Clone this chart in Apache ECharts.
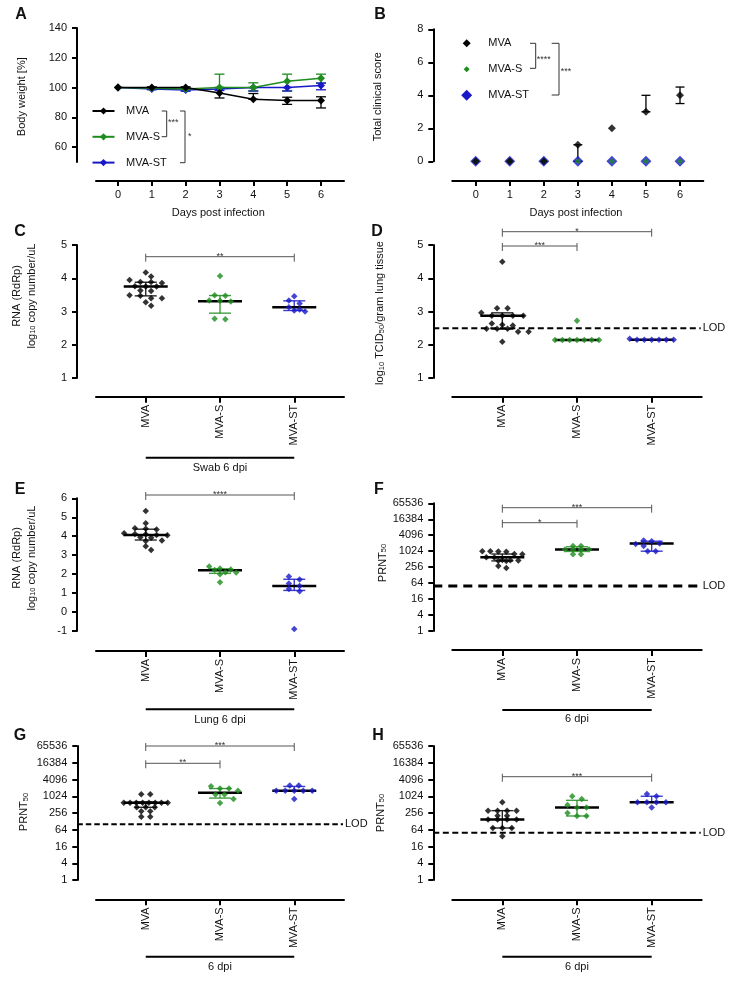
<!DOCTYPE html>
<html><head><meta charset="utf-8">
<script src="https://cdn.jsdelivr.net/npm/echarts@6/dist/echarts.min.js"></script>
<style>html,body{margin:0;padding:0;background:#fff}#c{width:737px;height:985px}</style>
</head><body><div id="c"></div>
<script>
const FONT = '"Liberation Sans", Arial, Helvetica, sans-serif';
const groups = ['MVA', 'MVA-S', 'MVA-ST'];
const colors = ['#000000', '#1e8c1e', '#1818c8'];

// ---------- Panel A: body weight ----------
const days = [0, 1, 2, 3, 4, 5, 6];
const weightMVA   = [100, 100, 100, 96.4, 92.1, 91.3, 91.3];
const weightMVALo = [100, 99.5, 99.5, 93.0, 92.1, 88.7, 86.3];
const weightMVAHi = [100, 100.5, 100.5, 100, 96.0, 93.5, 93.8];
const weightS     = [100, 99.5, 99.0, 100, 100, 104.3, 106.3];
const weightSLo   = [100, 99, 98.5, 100, 97.7, 97.7, 103];
const weightSHi   = [100, 100, 99.5, 109, 103.2, 109, 109];
const weightST    = [100, 99, 98.3, 99, 100, 100, 101.4];
const weightSTLo  = [100, 98.5, 97.5, 98, 97.7, 97.7, 98.5];
const weightSTHi  = [100, 99.5, 99, 100, 100, 100, 103];
const weightTicks = [60, 80, 100, 120, 140];

// ---------- Panel B: clinical score ----------
const scoreMVA   = [0, 0, 0, 1, 2, 3, 4];
const scoreMVALo = [0, 0, 0, 0, 2, 3, 3.5];
const scoreMVAHi = [0, 0, 0, 1, 2, 4, 4.5];
const scoreS  = [0, 0, 0, 0, 0, 0, 0];
const scoreST = [0, 0, 0, 0, 0, 0, 0];

// ---------- Panel C: swab RNA ----------
const swabMVA  = [4.17, 4.05, 3.95, 3.89, 3.89, 3.86, 3.76, 3.75, 3.75, 3.63, 3.62, 3.49, 3.47, 3.40, 3.40, 3.28, 3.17];
const swabS    = [4.07, 3.49, 3.47, 3.33, 3.32, 3.30, 2.78, 2.77];
const swabST   = [3.46, 3.33, 3.24, 3.13, 3.06, 3.03, 3.00];
const swabMedian = [3.75, 3.31, 3.13];
const swabQ1     = [3.47, 2.95, 3.03];
const swabQ3     = [3.88, 3.48, 3.32];

// ---------- Panel D: lung TCID50 ----------
const tcidMVA = [4.50, 3.10, 3.10, 2.96, 2.87, 2.87, 2.87, 2.87, 2.64, 2.60, 2.58, 2.48, 2.48, 2.48, 2.39, 2.39, 2.09];
const tcidS   = [2.72, 2.14, 2.14, 2.14, 2.14, 2.14, 2.14, 2.14];
const tcidST  = [2.18, 2.15, 2.15, 2.15, 2.15, 2.15, 2.15];
const tcidMedian = [2.87, 2.14, 2.15];
const tcidQ1     = [2.47, 2.14, 2.15];
const tcidQ3     = [2.96, 2.14, 2.15];
const tcidLOD = 2.5;

// ---------- Panel E: lung RNA ----------
const lungMVA = [5.33, 4.68, 4.42, 4.40, 4.35, 4.15, 4.12, 4.10, 4.07, 4.05, 3.95, 3.92, 3.78, 3.75, 3.47, 3.27];
const lungS   = [2.40, 2.30, 2.25, 2.22, 2.10, 2.08, 2.00, 1.57];
const lungST  = [1.87, 1.72, 1.50, 1.38, 1.22, 1.10, -0.89];
const lungMedian = [4.07, 2.20, 1.38];
const lungQ1     = [3.80, 2.04, 1.14];
const lungQ3     = [4.37, 2.28, 1.73];

// ---------- Panel F: PRNT50 ----------
const prntFMVA = [1024, 1024, 1000, 980, 800, 780, 600, 590, 480, 470, 460, 450, 440, 280, 240];
const prntFS   = [1620, 1620, 1180, 1180, 1180, 1180, 790, 790];
const prntFST  = [2600, 2430, 2000, 1900, 1620, 1024, 1024];
const prntFMedian = [600, 1180, 2000];
const prntFQ1     = [440, 1000, 1024];
const prntFQ3     = [800, 1500, 2430];
const prntFLOD = 50;

// ---------- Panel G: PRNT50 ----------
const prntGMVA = [1200, 1200, 600, 600, 600, 600, 600, 600, 600, 600, 410, 410, 410, 295, 295, 189, 189];
const prntGS   = [2350, 1940, 1940, 1600, 1180, 1180, 820, 590];
const prntGST  = [2490, 2490, 1600, 1600, 1600, 1600, 1600, 820];
const prntGMedian = [600, 1380, 1600];
const prntGQ1     = [410, 880, 1600];
const prntGQ3     = [640, 1940, 2300];
const prntGLOD = 100;

// ---------- Panel H: PRNT50 ----------
const prntHMVA = [622, 311, 311, 311, 311, 205, 205, 151, 151, 151, 151, 74, 74, 74, 37];
const prntHS   = [1024, 820, 500, 400, 400, 256, 200, 200];
const prntHST  = [1245, 1024, 622, 622, 622, 622, 400];
const prntHMedian = [151, 400, 622];
const prntHQ1     = [74, 200, 622];
const prntHQ3     = [311, 730, 1024];
const prntHLOD = 50;

const log2Ticks = [0, 2, 4, 6, 8, 10, 12, 14, 16];

// ---------- layout (pixels) ----------
const LAYOUT = {
  A: {left: 96,    top: 28,    width: 248,   height: 134,   yo: 19,   xo: 19},
  B: {left: 452.3, top: 29.3,  width: 251,   height: 132,   yo: 19,   xo: 19.7},
  C: {left: 96,    top: 245,   width: 248,   height: 133,   yo: 19,   xo: 18.7},
  D: {left: 452.3, top: 245,   width: 249.4, height: 133,   yo: 19,   xo: 18.7},
  E: {left: 96,    top: 498.3, width: 248,   height: 132.7, yo: 19,   xo: 20},
  F: {left: 452.3, top: 503.3, width: 249.4, height: 127.7, yo: 19,   xo: 19},
  G: {left: 96,    top: 746,   width: 248,   height: 134,   yo: 18.7, xo: 19.3},
  H: {left: 452.3, top: 746,   width: 249.4, height: 134,   yo: 19,   xo: 19.3}
};
const KEYS = ['A', 'B', 'C', 'D', 'E', 'F', 'G', 'H'];
const CAT_MIN = -0.67, CAT_MAX = 2.67;

const AX_LINE = {show: true, onZero: false, lineStyle: {color: '#000', width: 2}};
function axTick(vals, len) {
  const t = {show: true, length: len || 5, lineStyle: {color: '#000', width: 2}};
  if (vals) t.customValues = vals;
  return t;
}
function axLabel(extra) {
  return Object.assign({show: true, fontSize: 11, color: '#111', fontFamily: FONT, margin: 8}, extra || {});
}

const option = {
  animation: false,
  backgroundColor: '#ffffff',
  textStyle: {fontFamily: FONT},
  grid: [], xAxis: [], yAxis: [], series: [], legend: []
};

KEYS.forEach(k => {
  const l = LAYOUT[k];
  option.grid.push({left: l.left, top: l.top, width: l.width, height: l.height, containLabel: false, outerBoundsMode: 'none'});
});

// x axes
option.xAxis.push({type: 'value', gridIndex: 0, min: -0.65, max: 6.68, offset: LAYOUT.A.xo,
  axisLine: AX_LINE, axisTick: axTick(days), axisLabel: axLabel({customValues: days}), splitLine: {show: false}});
option.xAxis.push({type: 'value', gridIndex: 1, min: -0.687, max: 6.684, offset: LAYOUT.B.xo,
  axisLine: AX_LINE, axisTick: axTick(days), axisLabel: axLabel({customValues: days}), splitLine: {show: false}});
['C', 'D', 'E', 'F', 'G', 'H'].forEach((k, j) => {
  option.xAxis.push({type: 'value', gridIndex: j + 2, min: CAT_MIN, max: CAT_MAX, offset: LAYOUT[k].xo,
    axisLine: AX_LINE, axisTick: axTick([0, 1, 2], 6),
    axisLabel: axLabel({customValues: [0, 1, 2], rotate: 90, formatter: v => groups[Math.round(v)]}),
    splitLine: {show: false}});
});

// y axes
const yBase = (gi, k) => ({type: 'value', gridIndex: gi, offset: LAYOUT[k].yo, axisLine: AX_LINE, splitLine: {show: false}});
option.yAxis.push(Object.assign(yBase(0, 'A'), {min: 50, max: 140, axisTick: axTick(weightTicks), axisLabel: axLabel({customValues: weightTicks, margin: 10})}));
option.yAxis.push(Object.assign(yBase(1, 'B'), {min: 0, max: 8, interval: 2, axisTick: axTick(), axisLabel: axLabel({margin: 10})}));
option.yAxis.push(Object.assign(yBase(2, 'C'), {min: 1, max: 5, interval: 1, axisTick: axTick(), axisLabel: axLabel({margin: 10})}));
option.yAxis.push(Object.assign(yBase(3, 'D'), {min: 1, max: 5, interval: 1, axisTick: axTick(), axisLabel: axLabel({margin: 10})}));
option.yAxis.push(Object.assign(yBase(4, 'E'), {min: -1, max: 6, interval: 1, axisTick: axTick(), axisLabel: axLabel({margin: 10})}));
['F', 'G', 'H'].forEach((k, j) => {
  option.yAxis.push(Object.assign(yBase(5 + j, k), {min: 0, max: 16, interval: 2, axisTick: axTick(),
    axisLabel: axLabel({margin: 10, formatter: v => String(Math.round(Math.pow(2, v)))})}));
});

// ---------- Panel A series ----------
function errRender(cap) {
  return function (params, api) {
    const x = api.value(0);
    const lo = api.coord([x, api.value(1)]);
    const hi = api.coord([x, api.value(2)]);
    const col = colors[api.value(3)];
    if (Math.abs(lo[1] - hi[1]) < 0.5) return {type: 'group', children: []};
    const st = {stroke: col, lineWidth: 1.3};
    return {type: 'group', children: [
      {type: 'line', shape: {x1: lo[0], y1: lo[1], x2: hi[0], y2: hi[1]}, style: st},
      {type: 'line', shape: {x1: lo[0] - cap, y1: lo[1], x2: lo[0] + cap, y2: lo[1]}, style: st},
      {type: 'line', shape: {x1: hi[0] - cap, y1: hi[1], x2: hi[0] + cap, y2: hi[1]}, style: st}
    ]};
  };
}
const aSets = [[weightMVA, weightMVALo, weightMVAHi], [weightS, weightSLo, weightSHi], [weightST, weightSTLo, weightSTHi]];
aSets.forEach((s, g) => {
  option.series.push({type: 'custom', name: 'errA' + g, xAxisIndex: 0, yAxisIndex: 0, clip: false, silent: true, z: 2,
    renderItem: errRender(5), encode: {x: 0, y: [1, 2]},
    data: days.map((d, i) => [d, s[1][i], s[2][i], g])});
});
aSets.forEach((s, g) => {
  option.series.push({type: 'line', name: groups[g], xAxisIndex: 0, yAxisIndex: 0, silent: true,
    data: days.map((d, i) => [d, s[0][i]]), symbol: 'diamond', symbolSize: 8, showSymbol: true,
    itemStyle: {color: colors[g]}, lineStyle: {color: colors[g], width: 1.5}, z: 5 - g});
});

// ---------- Panel B series ----------
option.series.push({type: 'custom', name: 'errB', xAxisIndex: 1, yAxisIndex: 1, clip: false, silent: true, z: 2,
  renderItem: errRender(4.5), encode: {x: 0, y: [1, 2]},
  data: days.map((d, i) => [d, scoreMVALo[i], scoreMVAHi[i], 0])});
const bSets = [scoreMVA, scoreS, scoreST];
const bSizes = [8, 6, 11];
bSets.forEach((s, g) => {
  option.series.push({type: 'scatter', name: groups[g], xAxisIndex: 1, yAxisIndex: 1, clip: false, silent: true,
    data: days.map((d, i) => [d, s[i]]), symbol: 'diamond', symbolSize: bSizes[g],
    itemStyle: {color: colors[g]}, z: 5 - g});
});

// ---------- scatter panels C–H ----------
function swarm(vals, tf, pxPerY, pxPerX, spacing, marker, maxHalf) {
  const ys = vals.map(v => tf(v));
  const order = ys.map((y, i) => i).sort((a, b) => ys[b] - ys[a]);
  const rows = [];
  order.forEach(i => {
    const py = -ys[i] * pxPerY;
    const r = rows[rows.length - 1];
    if (r && Math.abs(py - r.py) < marker * 0.55) r.items.push(i); else rows.push({py: py, items: [i]});
  });
  const placed = [], off = [];
  rows.forEach(r => {
    const k = r.items.length;
    const sp = k > 1 ? Math.min(spacing, 2 * maxHalf / (k - 1)) : spacing;
    const cands = [0, sp / 2, -sp / 2, sp, -sp, 1.5 * sp, -1.5 * sp, 2 * sp, -2 * sp];
    let shift = 0;
    for (const s of cands) {
      const ok = r.items.every((i, j) => {
        const x = (j - (k - 1) / 2) * sp + s, y = -ys[i] * pxPerY;
        return placed.every(p => Math.abs(p.x - x) >= marker * 0.85 || Math.abs(p.y - y) >= marker * 0.85);
      });
      if (ok) { shift = s; break; }
    }
    r.items.forEach((i, j) => {
      const x = (j - (k - 1) / 2) * sp + shift;
      off[i] = x;
      placed.push({x: x, y: -ys[i] * pxPerY});
    });
  });
  return vals.map((v, i) => [off[i] / pxPerX, ys[i]]);
}

function statsRender(params, api) {
  const g = api.value(0);
  const m = api.coord([g, api.value(1)]);
  const lo = api.coord([g, api.value(2)]);
  const hi = api.coord([g, api.value(3)]);
  const col = colors[g];
  const ws = {stroke: col, lineWidth: 1.4, opacity: 0.85};
  return {type: 'group', children: [
    {type: 'line', shape: {x1: m[0], y1: lo[1], x2: m[0], y2: hi[1]}, style: ws},
    {type: 'line', shape: {x1: m[0] - 11, y1: lo[1], x2: m[0] + 11, y2: lo[1]}, style: ws},
    {type: 'line', shape: {x1: m[0] - 11, y1: hi[1], x2: m[0] + 11, y2: hi[1]}, style: ws},
    {type: 'line', shape: {x1: m[0] - 22, y1: m[1], x2: m[0] + 22, y2: m[1]}, style: {stroke: '#000', lineWidth: 2.5}}
  ]};
}

function lodSeries(gi, lodVal, yo, lw, dash) {
  return {type: 'custom', name: 'lod' + gi, xAxisIndex: gi, yAxisIndex: gi, clip: false, silent: true, z: 1,
    encode: {x: 0, y: 1}, data: [[CAT_MIN, lodVal]],
    renderItem: function (params, api) {
      const p0 = api.coord([CAT_MIN, api.value(1)]);
      const p1 = api.coord([CAT_MAX, api.value(1)]);
      return {type: 'group', children: [
        {type: 'line', shape: {x1: p0[0] - yo, y1: p0[1], x2: p1[0] - 1, y2: p0[1]}, style: {stroke: '#000', lineWidth: lw, lineDash: dash}},
        {type: 'text', x: p1[0] + 1, y: p0[1], style: {text: 'LOD', fontSize: 11, fontFamily: FONT, fill: '#111', align: 'left', verticalAlign: 'middle'}}
      ]};
    }};
}

const log2 = v => Math.log2(v);
const ident = v => v;
const PANELS = [
  {k: 'C', gi: 2, sets: [swabMVA, swabS, swabST], med: swabMedian, q1: swabQ1, q3: swabQ3, tf: ident, span: 4, sp: 10.8},
  {k: 'D', gi: 3, sets: [tcidMVA, tcidS, tcidST], med: tcidMedian, q1: tcidQ1, q3: tcidQ3, tf: ident, span: 4, sp: 10.5, lod: tcidLOD, lw: 2, dash: [6, 3.5]},
  {k: 'E', gi: 4, sets: [lungMVA, lungS, lungST], med: lungMedian, q1: lungQ1, q3: lungQ3, tf: ident, span: 7, sp: 10.8},
  {k: 'F', gi: 5, sets: [prntFMVA, prntFS, prntFST], med: prntFMedian, q1: prntFQ1, q3: prntFQ3, tf: log2, span: 16, sp: 8, lod: prntFLOD, lw: 3, dash: [9, 6]},
  {k: 'G', gi: 6, sets: [prntGMVA, prntGS, prntGST], med: prntGMedian, q1: prntGQ1, q3: prntGQ3, tf: log2, span: 16, sp: 9, lod: prntGLOD, lw: 2, dash: [5.5, 3]},
  {k: 'H', gi: 7, sets: [prntHMVA, prntHS, prntHST], med: prntHMedian, q1: prntHQ1, q3: prntHQ3, tf: log2, span: 16, sp: 9.5, lod: prntHLOD, lw: 2, dash: [6, 3.5]}
];

PANELS.forEach(p => {
  const l = LAYOUT[p.k];
  const pxPerY = l.height / p.span;
  const pxPerX = l.width / (CAT_MAX - CAT_MIN);
  if (p.lod != null) option.series.push(lodSeries(p.gi, p.tf(p.lod), l.yo, p.lw, p.dash));
  option.series.push({type: 'custom', name: 'stats' + p.k, xAxisIndex: p.gi, yAxisIndex: p.gi, clip: false, silent: true, z: 2,
    encode: {x: 0, y: [1, 2, 3]}, renderItem: statsRender,
    data: [0, 1, 2].map(g => [g, p.tf(p.med[g]), p.tf(p.q1[g]), p.tf(p.q3[g])])});
  p.sets.forEach((vals, g) => {
    const pts = swarm(vals, p.tf, pxPerY, pxPerX, p.sp, 6, 22);
    option.series.push({type: 'scatter', name: p.k + '-' + groups[g], xAxisIndex: p.gi, yAxisIndex: p.gi, clip: false, silent: true, z: 3,
      symbol: 'diamond', symbolSize: 6.5, itemStyle: {color: colors[g]},
      data: pts.map(d => [g + d[0], d[1]])});
  });
});

// ---------- legends ----------
option.legend.push({data: groups, orient: 'vertical', left: 91.5, top: 104, padding: 0, itemWidth: 22, itemHeight: 9, itemGap: 11.8,
  selectedMode: false, textStyle: {fontSize: 11, color: '#111', fontFamily: FONT, lineHeight: 14, padding: [0, 0, 0, 6.5]}});
const dPath = s => 'path://M0,0M12,12M6,' + (6 - s / 2) + 'L' + (6 + s / 2) + ',6L6,' + (6 + s / 2) + 'L' + (6 - s / 2) + ',6Z';
option.legend.push({data: groups.map((n, g) => ({name: n, icon: dPath(bSizes[g])})), orient: 'vertical', left: 460.7, top: 36.3,
  padding: 0, itemWidth: 12, itemHeight: 12, itemGap: 12, selectedMode: false,
  textStyle: {fontSize: 11, color: '#111', fontFamily: FONT, lineHeight: 14, padding: [0, 0, 0, 10.6]}});

const chart = echarts.init(document.getElementById('c'), null, {renderer: 'canvas'});
chart.setOption(option);

// ---------- annotations ----------
const GR = [];
function txt(x, y, text, style, rot) {
  GR.push({type: 'text', x: x, y: y, rotation: rot || 0, z: 20, silent: true,
    style: Object.assign({text: text, fontSize: 11, fontFamily: FONT, fill: '#111', align: 'center', verticalAlign: 'middle'}, style || {})});
}
function ln(x1, y1, x2, y2, w, c) {
  GR.push({type: 'line', z: 20, silent: true, shape: {x1: x1, y1: y1, x2: x2, y2: y2}, style: {stroke: c || '#333', lineWidth: w || 1}});
}
const gx = (gi, g) => chart.convertToPixel({gridIndex: gi}, [g, 1])[0];
const SUB = {s: {fontSize: 7.5, fontFamily: FONT, fill: '#111', verticalAlign: 'bottom', padding: [3, 0, 0, 0]}};
const R90 = Math.PI / 2;

// panel letters
[['A', 21, 15], ['B', 380, 15], ['C', 20, 232], ['D', 377, 232], ['E', 20, 490], ['F', 379, 490], ['G', 20, 736], ['H', 378, 736]]
  .forEach(a => txt(a[1], a[2], a[0], {fontSize: 16, fontWeight: 'bold'}));

// axis titles
txt(21.7, 96.7, 'Body weight [%]', null, R90);
txt(218.3, 212.5, 'Days post infection');
txt(378.3, 96.7, 'Total clinical score', null, R90);
txt(576, 213, 'Days post infection');
txt(16.7, 296, 'RNA (RdRp)', null, R90);
txt(31.7, 296, 'log{s|10} copy number/uL', {rich: SUB}, R90);
txt(380, 313, 'log{s|10} TCID{s|50}/gram lung tissue', {rich: SUB}, R90);
txt(16.7, 558, 'RNA (RdRp)', null, R90);
txt(31.7, 558, 'log{s|10} copy number/uL', {rich: SUB}, R90);
txt(382.7, 563, 'PRNT{s|50}', {rich: SUB}, R90);
txt(24, 812, 'PRNT{s|50}', {rich: SUB}, R90);
txt(380.5, 813, 'PRNT{s|50}', {rich: SUB}, R90);

// legend brackets (A)
ln(161.7, 111, 166.7, 111); ln(166.7, 111, 166.7, 136.7); ln(161.7, 136.7, 166.7, 136.7);
txt(168, 122.3, '***', {fontSize: 9, align: 'left', fill: '#333'});
ln(180, 111, 185, 111); ln(185, 111, 185, 162.7); ln(180, 162.7, 185, 162.7);
txt(188, 137, '*', {fontSize: 9, align: 'left', fill: '#333'});
// legend brackets (B)
ln(530, 43.3, 535.7, 43.3); ln(535.7, 43.3, 535.7, 68.3); ln(530, 68.3, 535.7, 68.3);
txt(536.7, 59.3, '****', {fontSize: 9, align: 'left', fill: '#333'});
ln(551.7, 43.3, 559, 43.3); ln(559, 43.3, 559, 95); ln(551.7, 95, 559, 95);
txt(560.7, 71.3, '***', {fontSize: 9, align: 'left', fill: '#333'});

// significance brackets
function sig(gi, y, a, b, label) {
  const x1 = gx(gi, a), x2 = gx(gi, b);
  ln(x1, y, x2, y, 1, '#555');
  ln(x1, y - 3, x1, y + 5, 1, '#555');
  ln(x2, y - 3, x2, y + 5, 1, '#555');
  txt((x1 + x2) / 2, y - 0.5, label, {fontSize: 9, fill: '#333'});
}
sig(2, 256.7, 0, 2, '**');
sig(3, 231.7, 0, 2, '*');
sig(3, 246, 0, 1, '***');
sig(4, 495, 0, 2, '****');
sig(5, 507.7, 0, 2, '***');
sig(5, 522.7, 0, 1, '*');
sig(6, 746, 0, 2, '***');
sig(6, 763.3, 0, 1, '**');
sig(7, 776.7, 0, 2, '***');

// group bars
function groupBar(gi, y, ty, label) {
  const x1 = gx(gi, 0), x2 = gx(gi, 2);
  ln(x1, y, x2, y, 2, '#000');
  txt((x1 + x2) / 2, ty, label);
}
groupBar(2, 457.7, 468.3, 'Swab 6 dpi');
groupBar(4, 709.3, 720, 'Lung 6 dpi');
groupBar(5, 710, 719.3, '6 dpi');
groupBar(6, 956.7, 967.3, '6 dpi');
groupBar(7, 956.7, 967.3, '6 dpi');

chart.setOption({graphic: GR});
</script>
</body></html>
